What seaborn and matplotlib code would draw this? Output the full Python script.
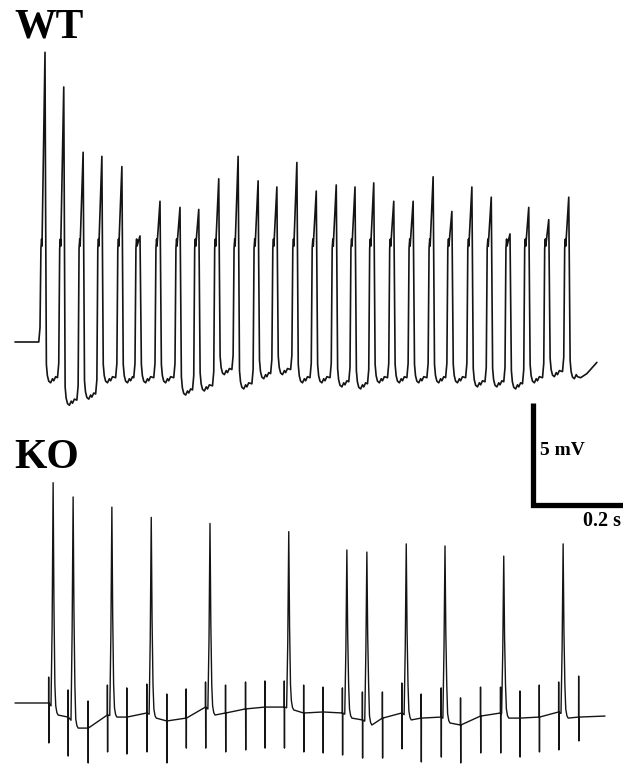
import numpy as np
import matplotlib
matplotlib.use("Agg")
import matplotlib.pyplot as plt
import seaborn as sns

sns.set_theme(style="white")
plt.rcParams['font.family'] = ['Liberation Serif', 'DejaVu Serif']

# ---------------- data (time in ms, voltage in mV relative to resting level) -------------
# WT trace: one spike per stimulus
wt_peak_t = [48, 78, 109, 139, 171, 200, 232, 264, 294, 326, 357, 389, 419, 451,
             482, 514, 544, 574, 606, 637, 669, 699, 731, 762, 792, 822, 854, 886]
wt_peak_v = [14.2, 12.5, 9.3, 9.1, 8.6, 5.2, 6.9, 6.6, 6.5, 8.0, 9.1, 7.9, 7.6, 8.8,
             7.4, 7.7, 7.6, 7.8, 6.9, 6.9, 8.1, 6.4, 7.6, 7.1, 5.3, 6.6, 6.0, 7.1]
wt_trough_v = [-2.0, -3.1, -2.8, -2.0, -2.0, -2.0, -2.0, -2.6, -2.4, -1.6, -2.3, -1.8, -1.6, -2.0,
               -2.0, -2.2, -2.3, -2.0, -2.0, -2.0, -2.0, -2.0, -2.2, -2.2, -2.3, -2.0, -1.7, -1.8]
wt_shoulder_v = 4.6
wt_tail_t = [905, 915, 931]
wt_tail_v = [-1.75, -1.55, -1.0]

# KO trace: stimulus artifacts at every stimulus, spikes only on some
ko_stim_t = [54, 85, 117, 148, 179, 211, 243, 274, 305, 337, 369, 400, 431, 462,
             493, 524, 556, 588, 619, 650, 682, 713, 745, 777, 808, 839, 870, 902]
ko_stim_v = [0.0, -0.69, -1.23, -0.59, -0.69, -0.49, -0.88, -0.74, -0.20, -0.49, -0.29, -0.20, -0.20, -0.49,
             -0.44, -0.49, -0.83, -0.74, -0.49, -0.74, -0.69, -1.08, -0.64, -0.49, -0.74, -0.69, -0.44, -0.69]
ko_art_top = [1.27, 0.64, 0.10, 0.88, 0.74, 0.93, 0.44, 0.69, 1.03, 0.88, 1.03, 1.08, 1.08, 0.88,
              0.78, 0.74, 0.54, 0.54, 0.98, 0.44, 0.74, 0.25, 0.78, 0.78, 0.59, 0.88, 1.03, 1.32]
ko_art_bot = [-1.96, -2.60, -2.94, -2.40, -2.50, -2.40, -2.94, -2.21, -2.21, -2.40, -2.30, -2.21, -2.21, -2.40,
              -2.45, -2.55, -2.70, -2.70, -2.25, -2.89, -2.65, -2.94, -2.45, -2.45, -2.65, -2.40, -2.30, -1.86]
ko_peak_t = [61, 93, 155, 218, 312, 438, 531, 563, 626, 688, 782, 877]
ko_peak_v = [10.8, 10.1, 9.6, 9.1, 8.8, 8.4, 7.5, 7.4, 7.8, 7.7, 7.2, 7.8]
ko_ahp_v = [-0.59, -1.23, -0.69, -0.74, -0.59, -0.34, -0.74, -1.08, -0.83, -0.98, -0.74, -0.74]
ko_end_t, ko_end_v = 944, -0.64

labels = ["WT", "KO"]
scale_mv = 5
scale_ms = 200
scale_labels = ["5 mV", "0.2 s"]

# ---------------- build traces from the values -------------
def wt_trace():
    pts = [(0.0, 0.0)]
    sh = wt_shoulder_v
    for i, (tp, vp, vt) in enumerate(zip(wt_peak_t, wt_peak_v, wt_trough_v)):
        vpre = 0.0 if i == 0 else wt_trough_v[i - 1] + 0.25
        pts += [(tp - 10.0, vpre), (tp - 8.0, vpre + 0.7), (tp - 6.5, sh),
                (tp - 5.4, sh + 0.45), (tp - 4.8, sh + 0.1), (tp, vp),
                (tp + 0.9, 0.5 * vp), (tp + 2.2, vt + 0.9), (tp + 3.8, vt + 0.35),
                (tp + 6.0, vt + 0.08), (tp + 9.0, vt), (tp + 12.0, vt + 0.2),
                (tp + 14.0, vt + 0.1)]
        if i < len(wt_peak_t) - 1:
            pts.append((tp + 17.0, vt + 0.3))
    pts += list(zip(wt_tail_t, wt_tail_v))
    pts.sort(key=lambda p: p[0])
    t, v = zip(*pts)
    return np.array(t), np.array(v)


def ko_trace():
    slow = [(0.0, 0.0)] + list(zip(ko_stim_t, ko_stim_v))
    slow += [(tp + 8.0, a) for tp, a in zip(ko_peak_t, ko_ahp_v)]
    slow += [(ko_end_t, ko_end_v)]
    slow.sort(key=lambda p: p[0])
    st, sv = map(np.array, zip(*slow))

    def base(x):
        return float(np.interp(x, st, sv))

    pts = [(0.0, 0.0)]
    pts += [(tp + 8.0, a) for tp, a in zip(ko_peak_t, ko_ahp_v)]
    pts += [(ko_end_t, ko_end_v)]
    for ts, top, bot in zip(ko_stim_t, ko_art_top, ko_art_bot):
        L = base(ts)
        pts += [(ts - 0.3, L), (ts - 0.15, top), (ts + 0.15, bot), (ts + 0.3, L)]
    for tp, vp, a in zip(ko_peak_t, ko_peak_v, ko_ahp_v):
        pts += [(tp - 3.4, base(tp - 3.4)), (tp - 1.6, 0.35 * vp), (tp, vp),
                (tp + 1.3, 0.45 * vp), (tp + 2.8, 0.9), (tp + 4.2, a + 0.45),
                (tp + 6.0, a + 0.12)]
    pts.sort(key=lambda p: p[0])
    t, v = zip(*pts)
    return np.array(t), np.array(v)


# ---------------- figure -------------
W, H, DPI = 623, 764, 100
fig = plt.figure(figsize=(W / DPI, H / DPI), dpi=DPI)
fig.patch.set_facecolor("white")

px_per_ms = 0.625
px_per_mv = 20.4
x0_px = 15
xlim = (-x0_px / px_per_ms, (W - x0_px) / px_per_ms)

ax_wt = fig.add_axes([0, 0, 1, 1])
ax_ko = fig.add_axes([0, 0, 1, 1])
base_px = {"WT": 342, "KO": 703}
for ax, key in [(ax_wt, "WT"), (ax_ko, "KO")]:
    b = base_px[key]
    ax.set_xlim(*xlim)
    ax.set_ylim(-(H - b) / px_per_mv, b / px_per_mv)
    ax.axis("off")
    ax.patch.set_alpha(0)

col = "#141414"
t, v = wt_trace()
sns.lineplot(x=t, y=v, sort=False, estimator=None, ax=ax_wt, color=col,
             linewidth=1.2, legend=False)
t, v = ko_trace()
sns.lineplot(x=t, y=v, sort=False, estimator=None, ax=ax_ko, color=col,
             linewidth=1.0, legend=False)

# scale bar (in WT data units)
sx = (533 - x0_px) / px_per_ms
sy = -3.0
ax_wt.plot([sx, sx, sx + scale_ms], [sy, sy - scale_mv, sy - scale_mv], color="black",
           linewidth=3.8, solid_joinstyle="miter", solid_capstyle="butt", clip_on=False)
ax_wt.text(sx + 11, sy - 2.3, scale_labels[0], fontsize=14, fontweight="bold",
           ha="left", va="center", color="black")
fig.text(621 / W, 1 - 521 / H, scale_labels[1], fontsize=14.5,
         fontweight="bold", ha="right", va="center", color="black")

# panel labels
fig.text(14 / W, 1 - 38 / H, labels[0], fontsize=30, fontweight="bold", ha="left",
         va="baseline", color="black")
fig.text(14 / W, 1 - 468 / H, labels[1], fontsize=30, fontweight="bold", ha="left",
         va="baseline", color="black")

fig.savefig("out.png", dpi=DPI, facecolor="white")
